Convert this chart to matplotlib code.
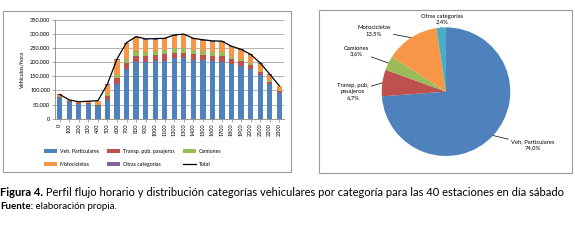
import matplotlib
matplotlib.use("Agg")
import matplotlib.pyplot as plt
from matplotlib.patches import Rectangle
import numpy as np

plt.rcParams['font.family'] = ['Lato', 'DejaVu Sans']

# datos (miles de vehiculos/hora)
horas = ["0", "100", "200", "300", "400", "500", "600", "700", "800", "900", "1000", "1100",
         "1200", "1300", "1400", "1500", "1600", "1700", "1800", "1900", "2000", "2100", "2200", "2300"]
particulares = [74, 59, 52, 53, 46, 67, 123, 177, 201, 202, 206, 206,
                216, 216, 208, 207, 203, 202, 195, 187, 177, 154, 123, 92]
transp_pub = [3, 2, 2, 2, 4, 12, 20, 22, 22, 22, 21, 22,
              18, 18, 20, 20, 20, 19, 17, 18, 14, 10, 8, 5]
camiones = [2, 1, 1, 1, 2, 8, 12, 12, 17, 14, 14, 15,
            16, 16, 17, 14, 15, 14, 8, 8, 8, 6, 5, 3]
motos = [6, 4, 4, 5, 11, 33, 53, 54, 45, 40, 38, 39,
         43, 47, 37, 36, 35, 37, 35, 31, 27, 25, 19, 15]
otras = [1, 0.5, 1, 1, 1, 3, 4, 5, 6, 5, 5, 3,
         4, 3, 3, 3, 3, 3, 2, 2, 2, 3, 3, 2]

categorias = ["Veh. Particulares", "Transp. púb.\npasajeros", "Camiones", "Motocicletas", "Otras categorías"]
porcentajes = [74.0, 6.7, 3.6, 13.5, 2.4]

c_azul = "#4F81BD"
c_rojo = "#C0504D"
c_verde = "#9BBB59"
c_naranja = "#F79646"
c_morado = "#8064A2"
c_cian = "#4BACC6"

fig = plt.figure(figsize=(5.75, 2.47), dpi=100)

# marcos de los dos graficos
fig.patches.append(Rectangle((3/575, 1-172/247), 288/575, 161/247, transform=fig.transFigure,
                             fill=False, edgecolor="#9a9a9a", lw=0.8))
fig.patches.append(Rectangle((319/575, 1-173/247), 253/575, 163/247, transform=fig.transFigure,
                             fill=False, edgecolor="#9a9a9a", lw=0.8))

# --- barras apiladas ---
ax = fig.add_axes([55/575, 1-118.7/247, 229/575, 98.7/247])
x = np.arange(len(horas))
series = [np.array(particulares), np.array(transp_pub), np.array(camiones), np.array(motos), np.array(otras)]
colores = [c_azul, c_rojo, c_verde, c_naranja, c_morado]
nombres = ["Veh. Particulares", "Transp. púb. pasajeros", "Camiones", "Motocicletas", "Otras categorías"]
base = np.zeros(len(horas))
barras = []
for s, c, n in zip(series, colores, nombres):
    b = ax.bar(x, s * 1000, 0.55, bottom=base * 1000, color=c, label=n, zorder=3)
    barras.append(b)
    base = base + s
linea, = ax.plot(x, base * 1000, color="black", lw=0.9, zorder=4, label="Total")

ax.set_xlim(-0.5, len(horas) - 0.5)
ax.set_ylim(0, 350000)
ax.set_yticks(range(0, 350001, 50000))
ax.set_yticklabels([f"{v:,}".replace(",", ".") for v in range(0, 350001, 50000)], fontsize=4)
ax.set_xticks(x)
ax.set_xticklabels(horas, rotation=90, fontsize=4)
ax.yaxis.grid(True, color="#a6a6a6", lw=0.6, zorder=0)
for sp in ["top", "right"]:
    ax.spines[sp].set_visible(False)
ax.spines["left"].set_color("#868686")
ax.spines["bottom"].set_color("#868686")
ax.spines["left"].set_linewidth(0.6)
ax.spines["bottom"].set_linewidth(0.6)
ax.tick_params(length=2, width=0.5, color="#868686", pad=1.5)
ax.set_ylabel("Vehículos/hora", fontsize=4, labelpad=4)

hs = [barras[0], barras[3], barras[1], barras[4], barras[2], linea]
ls = [nombres[0], nombres[3], nombres[1], nombres[4], nombres[2], "Total"]
fig.legend(hs, ls, ncol=3, loc="center left", bbox_to_anchor=(44/575, 1-158/247), fontsize=3.8,
           frameon=False, handlelength=2.4, handleheight=0.8, handletextpad=0.6,
           columnspacing=1.6, labelspacing=1.4, borderpad=0, borderaxespad=0)

# --- torta ---
r = 64.3
axp = fig.add_axes([(446-r)/575, (247-91.7-r)/247, 2*r/575, 2*r/247])
colores_p = [c_azul, c_rojo, c_verde, c_naranja, c_cian]
wedges, _ = axp.pie(porcentajes, colors=colores_p, startangle=90, counterclock=False,
                    wedgeprops=dict(linewidth=0))
axp.set_xlim(-1, 1)
axp.set_ylim(-1, 1)
axp.set_aspect("equal")

pos_txt = [(1.35, -0.83), (-1.45, 0.0), (-1.4, 0.63), (-1.12, 0.95), (-0.06, 1.13)]
for w, cat, p, (tx, ty) in zip(wedges, categorias, porcentajes, pos_txt):
    ang = np.deg2rad((w.theta1 + w.theta2) / 2)
    px, py = np.cos(ang), np.sin(ang)
    axp.annotate(f"{cat}\n{p:.1f}%".replace(".", ","), xy=(px, py), xytext=(tx, ty),
                 ha="center", va="center", fontsize=4.2, linespacing=1.2,
                 arrowprops=dict(arrowstyle="-", color="black", lw=0.5, shrinkA=0, shrinkB=0))

# --- pie de figura ---
t1 = fig.text(0.0, 1-192/247, "Figura 4.", fontsize=8, fontweight="bold", va="center", ha="left")
t2 = fig.text(0.0, 1-206/247, "Fuente:", fontsize=7, fontweight="bold", va="center", ha="left")
ax.annotate(" Perfil flujo horario y distribución categorías vehiculares por categoría para las 40 estaciones en día sábado",
            xy=(1, 0.5), xycoords=t1, ha="left", va="center", fontsize=8, annotation_clip=False)
ax.annotate(" elaboración propia.", xy=(1, 0.5), xycoords=t2, ha="left", va="center", fontsize=7,
            annotation_clip=False)

fig.savefig("out.png", dpi=100)
